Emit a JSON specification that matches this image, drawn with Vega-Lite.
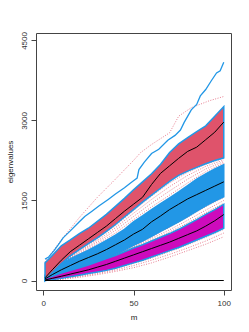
{
  "$schema": "https://vega.github.io/schema/vega-lite/v6.json",
  "autosize": {"type": "none"},
  "width": 195,
  "height": 257,
  "padding": {"left": 36, "top": 33, "right": 18, "bottom": 42},
  "background": "white",
  "datasets": {
    "bands": [
      {"m": 1, "grp": "red", "lo": 0, "mid": 50, "hi": 330},
      {"m": 5, "grp": "red", "lo": 150, "mid": 200, "hi": 470},
      {"m": 10, "grp": "red", "lo": 320, "mid": 380, "hi": 650},
      {"m": 15, "grp": "red", "lo": 460, "mid": 540, "hi": 760},
      {"m": 20, "grp": "red", "lo": 580, "mid": 660, "hi": 880},
      {"m": 25, "grp": "red", "lo": 690, "mid": 780, "hi": 980},
      {"m": 30, "grp": "red", "lo": 800, "mid": 900, "hi": 1110},
      {"m": 35, "grp": "red", "lo": 920, "mid": 1020, "hi": 1240},
      {"m": 40, "grp": "red", "lo": 1050, "mid": 1160, "hi": 1390},
      {"m": 45, "grp": "red", "lo": 1190, "mid": 1300, "hi": 1540},
      {"m": 50, "grp": "red", "lo": 1330, "mid": 1430, "hi": 1700},
      {"m": 55, "grp": "red", "lo": 1470, "mid": 1560, "hi": 1850},
      {"m": 60, "grp": "red", "lo": 1600, "mid": 1800, "hi": 2000},
      {"m": 65, "grp": "red", "lo": 1730, "mid": 2010, "hi": 2180},
      {"m": 70, "grp": "red", "lo": 1860, "mid": 2150, "hi": 2400},
      {"m": 75, "grp": "red", "lo": 1970, "mid": 2290, "hi": 2560},
      {"m": 80, "grp": "red", "lo": 2050, "mid": 2420, "hi": 2680},
      {"m": 85, "grp": "red", "lo": 2120, "mid": 2500, "hi": 2790},
      {"m": 90, "grp": "red", "lo": 2190, "mid": 2640, "hi": 2900},
      {"m": 95, "grp": "red", "lo": 2250, "mid": 2780, "hi": 3080},
      {"m": 100, "grp": "red", "lo": 2300, "mid": 2970, "hi": 3260},
      {"m": 1, "grp": "blue", "lo": 0, "mid": 30, "hi": 100},
      {"m": 5, "grp": "blue", "lo": 50, "mid": 110, "hi": 200},
      {"m": 10, "grp": "blue", "lo": 110, "mid": 200, "hi": 320},
      {"m": 15, "grp": "blue", "lo": 170, "mid": 280, "hi": 410},
      {"m": 20, "grp": "blue", "lo": 230, "mid": 360, "hi": 490},
      {"m": 25, "grp": "blue", "lo": 290, "mid": 430, "hi": 570},
      {"m": 30, "grp": "blue", "lo": 350, "mid": 500, "hi": 660},
      {"m": 35, "grp": "blue", "lo": 410, "mid": 580, "hi": 750},
      {"m": 40, "grp": "blue", "lo": 490, "mid": 670, "hi": 850},
      {"m": 45, "grp": "blue", "lo": 570, "mid": 760, "hi": 960},
      {"m": 50, "grp": "blue", "lo": 660, "mid": 870, "hi": 1100},
      {"m": 55, "grp": "blue", "lo": 740, "mid": 960, "hi": 1210},
      {"m": 60, "grp": "blue", "lo": 830, "mid": 1100, "hi": 1330},
      {"m": 65, "grp": "blue", "lo": 920, "mid": 1210, "hi": 1440},
      {"m": 70, "grp": "blue", "lo": 1010, "mid": 1330, "hi": 1550},
      {"m": 75, "grp": "blue", "lo": 1100, "mid": 1430, "hi": 1660},
      {"m": 80, "grp": "blue", "lo": 1200, "mid": 1530, "hi": 1780},
      {"m": 85, "grp": "blue", "lo": 1300, "mid": 1610, "hi": 1900},
      {"m": 90, "grp": "blue", "lo": 1400, "mid": 1690, "hi": 2000},
      {"m": 95, "grp": "blue", "lo": 1490, "mid": 1770, "hi": 2090},
      {"m": 100, "grp": "blue", "lo": 1570, "mid": 1850, "hi": 2170},
      {"m": 1, "grp": "magenta", "lo": 0, "mid": 10, "hi": 40},
      {"m": 5, "grp": "magenta", "lo": 15, "mid": 40, "hi": 80},
      {"m": 10, "grp": "magenta", "lo": 40, "mid": 80, "hi": 140},
      {"m": 15, "grp": "magenta", "lo": 70, "mid": 120, "hi": 190},
      {"m": 20, "grp": "magenta", "lo": 100, "mid": 160, "hi": 240},
      {"m": 25, "grp": "magenta", "lo": 130, "mid": 200, "hi": 290},
      {"m": 30, "grp": "magenta", "lo": 160, "mid": 250, "hi": 350},
      {"m": 35, "grp": "magenta", "lo": 190, "mid": 300, "hi": 410},
      {"m": 40, "grp": "magenta", "lo": 230, "mid": 360, "hi": 470},
      {"m": 45, "grp": "magenta", "lo": 280, "mid": 420, "hi": 540},
      {"m": 50, "grp": "magenta", "lo": 330, "mid": 480, "hi": 610},
      {"m": 55, "grp": "magenta", "lo": 380, "mid": 540, "hi": 670},
      {"m": 60, "grp": "magenta", "lo": 440, "mid": 600, "hi": 740},
      {"m": 65, "grp": "magenta", "lo": 500, "mid": 660, "hi": 810},
      {"m": 70, "grp": "magenta", "lo": 560, "mid": 720, "hi": 880},
      {"m": 75, "grp": "magenta", "lo": 620, "mid": 790, "hi": 960},
      {"m": 80, "grp": "magenta", "lo": 690, "mid": 860, "hi": 1050},
      {"m": 85, "grp": "magenta", "lo": 760, "mid": 930, "hi": 1140},
      {"m": 90, "grp": "magenta", "lo": 830, "mid": 1020, "hi": 1240},
      {"m": 95, "grp": "magenta", "lo": 900, "mid": 1120, "hi": 1330},
      {"m": 100, "grp": "magenta", "lo": 980, "mid": 1237, "hi": 1430}
    ],
    "dots": [
      {"m": 1, "id": "D1", "v": 350}, {"m": 10, "id": "D1", "v": 760}, {"m": 20, "id": "D1", "v": 1180}, {"m": 30, "id": "D1", "v": 1560}, {"m": 40, "id": "D1", "v": 1900}, {"m": 50, "id": "D1", "v": 2250}, {"m": 54, "id": "D1", "v": 2400}, {"m": 60, "id": "D1", "v": 2550}, {"m": 70, "id": "D1", "v": 2770}, {"m": 75, "id": "D1", "v": 3080}, {"m": 82, "id": "D1", "v": 3240}, {"m": 92, "id": "D1", "v": 3370}, {"m": 100, "id": "D1", "v": 3450},
      {"m": 1, "id": "A1", "v": 60}, {"m": 10, "id": "A1", "v": 320}, {"m": 20, "id": "A1", "v": 570}, {"m": 30, "id": "A1", "v": 780}, {"m": 40, "id": "A1", "v": 1030}, {"m": 50, "id": "A1", "v": 1310}, {"m": 60, "id": "A1", "v": 1580}, {"m": 70, "id": "A1", "v": 1830}, {"m": 80, "id": "A1", "v": 2030}, {"m": 90, "id": "A1", "v": 2180}, {"m": 100, "id": "A1", "v": 2290},
      {"m": 1, "id": "A2", "v": 50}, {"m": 10, "id": "A2", "v": 320}, {"m": 20, "id": "A2", "v": 550}, {"m": 30, "id": "A2", "v": 750}, {"m": 40, "id": "A2", "v": 990}, {"m": 50, "id": "A2", "v": 1260}, {"m": 60, "id": "A2", "v": 1520}, {"m": 70, "id": "A2", "v": 1760}, {"m": 80, "id": "A2", "v": 1970}, {"m": 90, "id": "A2", "v": 2140}, {"m": 100, "id": "A2", "v": 2260},
      {"m": 1, "id": "A3", "v": 40}, {"m": 10, "id": "A3", "v": 320}, {"m": 20, "id": "A3", "v": 530}, {"m": 30, "id": "A3", "v": 720}, {"m": 40, "id": "A3", "v": 940}, {"m": 50, "id": "A3", "v": 1200}, {"m": 60, "id": "A3", "v": 1450}, {"m": 70, "id": "A3", "v": 1680}, {"m": 80, "id": "A3", "v": 1900}, {"m": 90, "id": "A3", "v": 2090}, {"m": 100, "id": "A3", "v": 2230},
      {"m": 1, "id": "A4", "v": 30}, {"m": 10, "id": "A4", "v": 320}, {"m": 20, "id": "A4", "v": 510}, {"m": 30, "id": "A4", "v": 690}, {"m": 40, "id": "A4", "v": 890}, {"m": 50, "id": "A4", "v": 1140}, {"m": 60, "id": "A4", "v": 1380}, {"m": 70, "id": "A4", "v": 1600}, {"m": 80, "id": "A4", "v": 1830}, {"m": 90, "id": "A4", "v": 2040}, {"m": 100, "id": "A4", "v": 2200},
      {"m": 1, "id": "B1", "v": 20}, {"m": 10, "id": "B1", "v": 120}, {"m": 20, "id": "B1", "v": 238}, {"m": 30, "id": "B1", "v": 350}, {"m": 40, "id": "B1", "v": 488}, {"m": 50, "id": "B1", "v": 655}, {"m": 60, "id": "B1", "v": 820}, {"m": 70, "id": "B1", "v": 995}, {"m": 80, "id": "B1", "v": 1185}, {"m": 90, "id": "B1", "v": 1385}, {"m": 100, "id": "B1", "v": 1555},
      {"m": 1, "id": "B2", "v": 15}, {"m": 10, "id": "B2", "v": 120}, {"m": 20, "id": "B2", "v": 236}, {"m": 30, "id": "B2", "v": 350}, {"m": 40, "id": "B2", "v": 482}, {"m": 50, "id": "B2", "v": 640}, {"m": 60, "id": "B2", "v": 790}, {"m": 70, "id": "B2", "v": 950}, {"m": 80, "id": "B2", "v": 1130}, {"m": 90, "id": "B2", "v": 1320}, {"m": 100, "id": "B2", "v": 1500},
      {"m": 1, "id": "B3", "v": 10}, {"m": 10, "id": "B3", "v": 120}, {"m": 20, "id": "B3", "v": 235}, {"m": 30, "id": "B3", "v": 350}, {"m": 40, "id": "B3", "v": 476}, {"m": 50, "id": "B3", "v": 625}, {"m": 60, "id": "B3", "v": 760}, {"m": 70, "id": "B3", "v": 910}, {"m": 80, "id": "B3", "v": 1080}, {"m": 90, "id": "B3", "v": 1270}, {"m": 100, "id": "B3", "v": 1450},
      {"m": 1, "id": "C1", "v": 5}, {"m": 10, "id": "C1", "v": 35}, {"m": 20, "id": "C1", "v": 90}, {"m": 30, "id": "C1", "v": 150}, {"m": 40, "id": "C1", "v": 220}, {"m": 50, "id": "C1", "v": 320}, {"m": 60, "id": "C1", "v": 420}, {"m": 70, "id": "C1", "v": 540}, {"m": 80, "id": "C1", "v": 670}, {"m": 90, "id": "C1", "v": 810}, {"m": 100, "id": "C1", "v": 960},
      {"m": 1, "id": "C2", "v": 3}, {"m": 10, "id": "C2", "v": 28}, {"m": 20, "id": "C2", "v": 75}, {"m": 30, "id": "C2", "v": 130}, {"m": 40, "id": "C2", "v": 195}, {"m": 50, "id": "C2", "v": 280}, {"m": 60, "id": "C2", "v": 380}, {"m": 70, "id": "C2", "v": 490}, {"m": 80, "id": "C2", "v": 610}, {"m": 90, "id": "C2", "v": 740}, {"m": 100, "id": "C2", "v": 890},
      {"m": 1, "id": "C3", "v": 2}, {"m": 10, "id": "C3", "v": 20}, {"m": 20, "id": "C3", "v": 60}, {"m": 30, "id": "C3", "v": 110}, {"m": 40, "id": "C3", "v": 170}, {"m": 50, "id": "C3", "v": 240}, {"m": 60, "id": "C3", "v": 330}, {"m": 70, "id": "C3", "v": 440}, {"m": 80, "id": "C3", "v": 560}, {"m": 90, "id": "C3", "v": 680}, {"m": 100, "id": "C3", "v": 820}
    ],
    "blueline": [
      {"m": 1, "v": 400}, {"m": 3, "v": 440}, {"m": 6, "v": 560}, {"m": 9, "v": 700}, {"m": 11, "v": 800}, {"m": 15, "v": 930}, {"m": 20, "v": 1100}, {"m": 23, "v": 1200}, {"m": 27, "v": 1300}, {"m": 31, "v": 1400}, {"m": 36, "v": 1520}, {"m": 40, "v": 1620}, {"m": 45, "v": 1740}, {"m": 48, "v": 1820}, {"m": 50, "v": 1870}, {"m": 52, "v": 1920}, {"m": 53, "v": 2080}, {"m": 56, "v": 2220}, {"m": 60, "v": 2380}, {"m": 64, "v": 2460}, {"m": 69, "v": 2630}, {"m": 73, "v": 2720}, {"m": 76, "v": 2820}, {"m": 78, "v": 2960}, {"m": 82, "v": 3200}, {"m": 85, "v": 3300}, {"m": 87, "v": 3460}, {"m": 90, "v": 3580}, {"m": 93, "v": 3740}, {"m": 96, "v": 3890}, {"m": 98, "v": 3930}, {"m": 100, "v": 4090}
    ],
    "zero": [
      {"m": 1, "v": 0}, {"m": 100, "v": 0}
    ]
  },
  "encoding": {
    "x": {"field": "m", "type": "quantitative", "scale": {"domain": [-4, 104], "nice": false, "zero": false},
      "axis": {"title": "m", "values": [0, 50, 100], "format": "d", "labelPadding": 4, "titlePadding": 6}}
  },
  "layer": [
    {
      "data": {"name": "dots"},
      "mark": {"type": "line", "color": "#DF536B", "strokeWidth": 1, "strokeDash": [1, 1.5], "opacity": 0.75},
      "encoding": {
        "y": {"field": "v", "type": "quantitative", "scale": {"domain": [-178, 4640], "nice": false, "zero": false},
          "axis": {"title": "eigenvalues", "values": [0, 1500, 3000, 4500], "format": "d", "labelAngle": 270, "labelAlign": "center", "labelBaseline": "bottom", "labelPadding": 3, "titlePadding": 6}},
        "detail": {"field": "id"}
      }
    },
    {
      "data": {"name": "bands"},
      "transform": [{"filter": "datum.grp === 'blue'"}],
      "mark": {"type": "area", "color": "#2297E6", "stroke": "#2297E6", "strokeWidth": 1.5},
      "encoding": {"y": {"field": "lo", "type": "quantitative"}, "y2": {"field": "hi"}}
    },
    {
      "data": {"name": "bands"},
      "transform": [{"filter": "datum.grp === 'red'"}],
      "mark": {"type": "area", "color": "#DF536B", "stroke": "#2297E6", "strokeWidth": 1.5},
      "encoding": {"y": {"field": "lo", "type": "quantitative"}, "y2": {"field": "hi"}}
    },
    {
      "data": {"name": "bands"},
      "transform": [{"filter": "datum.grp === 'magenta'"}],
      "mark": {"type": "area", "color": "#CD0BBC", "stroke": "#2297E6", "strokeWidth": 1.5},
      "encoding": {"y": {"field": "lo", "type": "quantitative"}, "y2": {"field": "hi"}}
    },
    {
      "data": {"name": "bands"},
      "mark": {"type": "line", "color": "black", "strokeWidth": 1},
      "encoding": {"y": {"field": "mid", "type": "quantitative"}, "detail": {"field": "grp"}}
    },
    {
      "data": {"name": "blueline"},
      "mark": {"type": "line", "color": "#2297E6", "strokeWidth": 1.3},
      "encoding": {"y": {"field": "v", "type": "quantitative"}}
    },
    {
      "data": {"name": "zero"},
      "mark": {"type": "line", "color": "black", "strokeWidth": 1.2},
      "encoding": {"y": {"field": "v", "type": "quantitative"}}
    }
  ],
  "config": {
    "view": {"stroke": "#444", "strokeWidth": 1},
    "axis": {"grid": false, "domain": false, "tickColor": "#444", "tickSize": 5, "labelFont": "Liberation Sans", "labelFontSize": 8, "labelColor": "#333", "titleFont": "Liberation Sans", "titleFontSize": 8, "titleFontWeight": "normal", "titleColor": "#222"}
  }
}
